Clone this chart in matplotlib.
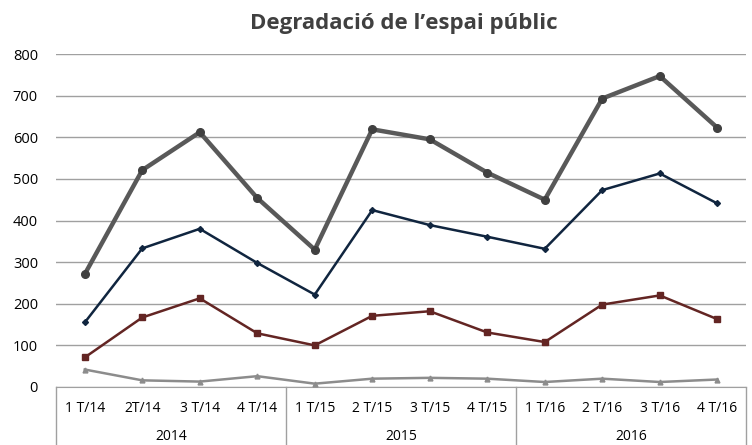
import numpy as np
import matplotlib
matplotlib.use("Agg")
import matplotlib.pyplot as plt
from matplotlib.lines import Line2D
import matplotlib.transforms as mtransforms

plt.rcParams['font.family'] = ['Open Sans', 'DejaVu Sans']

quarters = ['1 T/14', '2T/14', '3 T/14', '4 T/14',
            '1 T/15', '2 T/15', '3 T/15', '4 T/15',
            '1 T/16', '2 T/16', '3 T/16', '4 T/16']
years = ['2014', '2015', '2016']

total = [271, 521, 612, 454, 330, 619, 595, 515, 450, 693, 747, 623]
navy = [155, 333, 380, 298, 222, 425, 389, 361, 332, 473, 513, 441]
red = [71, 167, 213, 129, 100, 171, 182, 131, 108, 198, 220, 163]
light = [42, 16, 13, 26, 8, 20, 22, 20, 12, 20, 12, 18]

fig = plt.figure(figsize=(7.52, 4.45), dpi=100)
ax = fig.add_axes([56 / 752, 58 / 445, 690 / 752, 333 / 445])

x = np.arange(len(quarters))
ax.plot(x, total, color='#595959', lw=3.2, marker='o', ms=5.5,
        mfc='#404040', mec='#404040', zorder=5)
ax.plot(x, navy, color='#10253f', lw=1.8, marker='D', ms=3, zorder=4)
ax.plot(x, red, color='#632523', lw=1.8, marker='s', ms=4.5, zorder=4)
ax.plot(x, light, color='#8c8c8c', lw=1.8, marker='^', ms=3.5, zorder=3)

ax.set_xlim(-0.5, len(quarters) - 0.5)
ax.set_ylim(0, 800)
ax.set_yticks(range(0, 801, 100))
ax.yaxis.grid(True, color='#a0a0a0', lw=1)
ax.set_axisbelow(True)
for s in ['top', 'right', 'left']:
    ax.spines[s].set_visible(False)
ax.spines['bottom'].set_color('#a0a0a0')
ax.tick_params(axis='y', length=0, labelsize=10.5, pad=13, colors='#000000')
ax.set_xticks([])

fig.text(404 / 752, 422 / 445, "Degradació de l’espai públic", fontsize=16,
         fontweight='bold', color='#404040', ha='center', va='center')

# two-level category axis
trans = mtransforms.blended_transform_factory(ax.transData, ax.transAxes)
h = 333
for i, q in enumerate(quarters):
    ax.text(i, -21 / h, q, transform=trans, ha='center', va='center',
            fontsize=10)
for j, yr in enumerate(years):
    ax.text(j * 4 + 1.5, -50 / h, yr, transform=trans, ha='center',
            va='center', fontsize=10)
for b in [-0.5, 3.5, 7.5, 11.5]:
    ax.add_line(Line2D([b, b], [0, -58 / h], transform=trans, color='#a0a0a0',
                       lw=1, clip_on=False))

fig.savefig('out.png', dpi=100)
